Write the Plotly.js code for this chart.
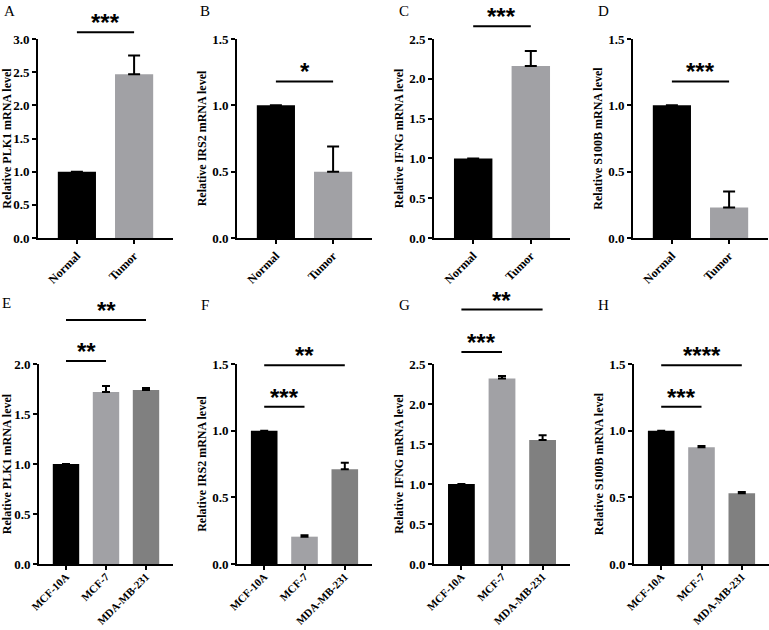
<!DOCTYPE html>
<html>
<head>
<meta charset="utf-8">
<script src="https://cdn.plot.ly/plotly-3.0.1.min.js"></script>
<style>html,body{margin:0;padding:0;background:#fff;}#chart{width:769px;height:630px;}</style>
</head>
<body>
<div id="chart"></div>
<script>
// ---------- data ----------
const panelLetters = ['A','B','C','D','E','F','G','H'];
const geneNames = ['PLK1','IRS2','IFNG','S100B'];
const tissueCats = ['Normal','Tumor'];
const cellCats = ['MCF-10A','MCF-7','MDA-MB-231'];

const tissuePLK1 = [1.00, 2.47];   const tissuePLK1Err = [0, 0.28];
const tissueIRS2 = [1.00, 0.50];   const tissueIRS2Err = [0, 0.19];
const tissueIFNG = [1.00, 2.16];   const tissueIFNGErr = [0, 0.19];
const tissueS100B = [1.00, 0.23];  const tissueS100BErr = [0, 0.12];

const cellPLK1 = [1.00, 1.72, 1.74];   const cellPLK1Err = [0, 0.06, 0.02];
const cellIRS2 = [1.00, 0.205, 0.71];  const cellIRS2Err = [0, 0.01, 0.05];
const cellIFNG = [1.00, 2.32, 1.55];   const cellIFNGErr = [0, 0.03, 0.06];
const cellS100B = [1.00, 0.875, 0.53]; const cellS100BErr = [0, 0.01, 0.01];

const yMaxTop = [3.0, 1.5, 2.5, 1.5];
const yMaxBottom = [2.0, 1.5, 2.5, 1.5];

// significance brackets: [from category index, to category index, label, height in data units]
const sigA = [[0, 1, '***', 3.10]];
const sigB = [[0, 1, '*', 1.18]];
const sigC = [[0, 1, '***', 2.66]];
const sigD = [[0, 1, '***', 1.18]];
const sigE = [[0, 1, '**', 2.03], [0, 2, '**', 2.44]];
const sigF = [[0, 1, '***', 1.18], [0, 2, '**', 1.49]];
const sigG = [[0, 1, '***', 2.65], [0, 2, '**', 3.18]];
const sigH = [[0, 1, '***', 1.18], [0, 2, '****', 1.49]];

const tissueColors = ['#000000', '#a1a1a5'];
const cellColors = ['#000000', '#a1a1a5', '#808080'];

// ---------- layout geometry (pixels) ----------
const W = 769, H = 630;
const boxes = [
  [38,173,39,238],[237,372,39,238],[434,570,39,238],[633,768,39,238],
  [39,173,364,564],[237,372,364,564],[434,570,364,564],[634,769,364,564]
];
const letterPos = [[2,1],[198,1],[397,1],[596,1],[0,293],[199,295],[397,295],[596,295]];

const panels = [
  {cats: tissueCats, vals: tissuePLK1, err: tissuePLK1Err, colors: tissueColors, ymax: yMaxTop[0], gene: geneNames[0], sig: sigA},
  {cats: tissueCats, vals: tissueIRS2, err: tissueIRS2Err, colors: tissueColors, ymax: yMaxTop[1], gene: geneNames[1], sig: sigB},
  {cats: tissueCats, vals: tissueIFNG, err: tissueIFNGErr, colors: tissueColors, ymax: yMaxTop[2], gene: geneNames[2], sig: sigC},
  {cats: tissueCats, vals: tissueS100B, err: tissueS100BErr, colors: tissueColors, ymax: yMaxTop[3], gene: geneNames[3], sig: sigD},
  {cats: cellCats, vals: cellPLK1, err: cellPLK1Err, colors: cellColors, ymax: yMaxBottom[0], gene: geneNames[0], sig: sigE},
  {cats: cellCats, vals: cellIRS2, err: cellIRS2Err, colors: cellColors, ymax: yMaxBottom[1], gene: geneNames[1], sig: sigF},
  {cats: cellCats, vals: cellIFNG, err: cellIFNGErr, colors: cellColors, ymax: yMaxBottom[2], gene: geneNames[2], sig: sigG},
  {cats: cellCats, vals: cellS100B, err: cellS100BErr, colors: cellColors, ymax: yMaxBottom[3], gene: geneNames[3], sig: sigH}
];

const serif = 'Liberation Serif, Times New Roman, serif';
const titleFont = {family: serif, size: 12, color: '#000', weight: 700};
const tickFontY = {family: serif, size: 13, color: '#000', weight: 700};
const tickFontX2 = {family: serif, size: 12, color: '#000', weight: 700};
const tickFontX3 = {family: serif, size: 11, color: '#000', weight: 700};

const traces = [];
const layout = {
  width: W, height: H,
  margin: {l: 0, r: 0, t: 0, b: 0},
  paper_bgcolor: '#fff', plot_bgcolor: 'rgba(0,0,0,0)',
  showlegend: false,
  annotations: [], shapes: []
};

panels.forEach((p, i) => {
  const n = i + 1;
  const xa = 'x' + (n === 1 ? '' : n), ya = 'y' + (n === 1 ? '' : n);
  const xk = 'xaxis' + (n === 1 ? '' : n), yk = 'yaxis' + (n === 1 ? '' : n);
  const b = boxes[i];
  const ydom = [1 - b[3] / H, 1 - b[2] / H];
  const nc = p.cats.length;
  const half = nc === 2 ? 0.68 : 0.675;
  traces.push({
    type: 'bar', x: p.cats, y: p.vals, xaxis: xa, yaxis: ya,
    width: nc === 2 ? 0.667 : 0.66,
    marker: {color: p.colors, line: {width: 0}},
    error_y: {type: 'data', symmetric: false, array: p.err, arrayminus: p.err.map(() => 0),
              color: '#000', thickness: 2, width: nc === 2 ? 6 : 4},
    hoverinfo: 'x+y'
  });
  layout[xk] = {
    domain: [b[0] / W, b[1] / W], anchor: ya, type: 'category',
    range: [-half, nc - 1 + half],
    showline: true, linewidth: 2, linecolor: '#000',
    ticks: 'outside', ticklen: 4, tickwidth: 2, tickcolor: '#000',
    tickangle: -45, tickfont: nc === 2 ? tickFontX2 : tickFontX3, ticklabelstandoff: nc === 2 ? 0 : -4,
    showgrid: false, zeroline: false, fixedrange: true
  };
  layout[yk] = {
    domain: ydom, anchor: xa, range: [0, p.ymax], dtick: 0.5, tick0: 0, tickformat: '.1f',
    showline: true, linewidth: 2, linecolor: '#000',
    ticks: 'outside', ticklen: 4, tickwidth: 2, tickcolor: '#000',
    tickfont: tickFontY, showgrid: false, zeroline: false, fixedrange: true,
    title: {text: 'Relative ' + p.gene + ' mRNA level', font: titleFont, standoff: 3}
  };
  const toPaper = v => ydom[0] + v / p.ymax * (ydom[1] - ydom[0]);
  p.sig.forEach(s => {
    const yp = toPaper(s[3]);
    layout.shapes.push({type: 'line', xref: xa, yref: 'paper', x0: s[0], x1: s[1], y0: yp, y1: yp,
                        line: {color: '#000', width: 2}});
    layout.annotations.push({xref: xa, yref: 'paper', x: (s[0] + s[1]) / 2, y: yp,
      xanchor: 'center', yanchor: 'bottom', yshift: -6, showarrow: false, text: s[2],
      font: {family: 'Liberation Sans, Arial, sans-serif', size: 24, color: '#000', weight: 700}});
  });
  layout.annotations.push({xref: 'paper', yref: 'paper', x: letterPos[i][0] / W, y: 1 - letterPos[i][1] / H,
    xanchor: 'left', yanchor: 'top', showarrow: false, text: panelLetters[i],
    font: {family: serif, size: 15, color: '#000'}});
});

Plotly.newPlot('chart', traces, layout, {staticPlot: true, displayModeBar: false});
</script>
</body>
</html>
